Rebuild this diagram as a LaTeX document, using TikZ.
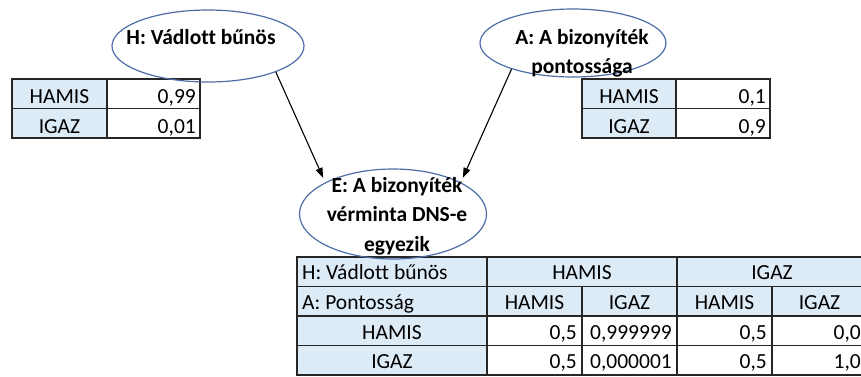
\documentclass[tikz,border=0pt]{standalone}
\usepackage{fontspec}
\setmainfont{Carlito}[Ligatures=CommonOff]
\usetikzlibrary{shapes.geometric,arrows.meta}
\definecolor{lblue}{RGB}{221,235,247}
\definecolor{eline}{RGB}{79,110,168}
\begin{document}
\begin{tikzpicture}[x=1pt,y=-1pt,
  bn/.style={ellipse,draw=eline,line width=1.2pt,inner sep=0pt},
  etext/.style={font=\fontsize{21.5}{29.5}\selectfont\bfseries,align=center,anchor=base,inner sep=0pt},
  ttext/.style={font=\fontsize{21.5}{25}\selectfont,inner sep=0pt,anchor=base},
  tgrid/.style={line width=1.3pt,draw=black!85},
  arr/.style={-{Triangle[length=10pt,width=7pt]},line width=1.1pt,shorten >=5pt}]
\path[use as bounding box] (0,0) rectangle (861,376);
\clip (0,0) rectangle (861,376);
\fill[white] (0,0) rectangle (861,376);

% H prior table
\fill[lblue] (12,79) rectangle (107,138);
\draw[tgrid] (12,79) rectangle (200,138) (107,79) -- (107,138) (12,108.5) -- (200,108.5);
\node[ttext] (hh) at (59.5,103.5) {HAMIS};
\node[ttext,anchor=base east] (hhv) at (196,103.5) {0,99};
\node[ttext] (hi) at (59.5,133) {IGAZ};
\node[ttext,anchor=base east] (hiv) at (196,133) {0,01};

% A prior table
\fill[lblue] (582,79) rectangle (676,138);
\draw[tgrid] (582,79) rectangle (770,138) (676,79) -- (676,138) (582,108.5) -- (770,108.5);
\node[ttext] (ah) at (629,103.5) {HAMIS};
\node[ttext,anchor=base east] (ahv) at (766,103.5) {0,1};
\node[ttext] (ai) at (629,133) {IGAZ};
\node[ttext,anchor=base east] (aiv) at (766,133) {0,9};

% CPT of E
\fill[lblue] (297,257) rectangle (867,316);
\fill[lblue] (297,316) rectangle (487,375);
\draw[tgrid] (297,257) rectangle (867,375)
  (297,286.5) -- (867,286.5) (297,316) -- (867,316) (297,345.5) -- (867,345.5)
  (487,257) -- (487,375) (677,257) -- (677,375)
  (582,286.5) -- (582,375) (772,286.5) -- (772,375);
\node[ttext,anchor=base west] (r1) at (302,279.5) {H: Vádlott bűnös};
\node[ttext] (r1a) at (582,279.5) {HAMIS};
\node[ttext] (r1b) at (772,279.5) {IGAZ};
\node[ttext,anchor=base west] (r2) at (302,309) {A: Pontosság};
\node[ttext] (r2a) at (534.5,309) {HAMIS};
\node[ttext] (r2b) at (629.5,309) {IGAZ};
\node[ttext] (r2c) at (724.5,309) {HAMIS};
\node[ttext] (r2d) at (819.5,309) {IGAZ};
\node[ttext] (r3) at (392,339) {HAMIS};
\node[ttext,anchor=base east] (r3a) at (577,339) {0,5};
\node[ttext,anchor=base east] (r3b) at (672,339) {0,999999};
\node[ttext,anchor=base east] (r3c) at (767,339) {0,5};
\node[ttext,anchor=base east] (r3d) at (861,339) {0,0};
\node[ttext] (r4) at (392,368.5) {IGAZ};
\node[ttext,anchor=base east] (r4a) at (577,368.5) {0,5};
\node[ttext,anchor=base east] (r4b) at (672,368.5) {0,000001};
\node[ttext,anchor=base east] (r4c) at (767,368.5) {0,5};
\node[ttext,anchor=base east] (r4d) at (861,368.5) {1,0};

% Bayesian network nodes
\node[bn,minimum width=192pt,minimum height=72pt] (H) at (208,46) {};
\node[bn,minimum width=186pt,minimum height=68pt] (A) at (573,43) {};
\node[bn,minimum width=187pt,minimum height=90pt] (E) at (393,214) {};
\node[etext] (Ht) at (201,44) {H: Vádlott bűnös};
\node[etext] (At) at (582,73.5) {A: A bizonyíték\\pontossága};
\node[etext] (Et) at (397,251) {E: A bizonyíték\\vérminta DNS-e\\egyezik};

% connectors
\draw[arr] (H.-21) -- (E.155);
\draw[arr] (A.-157) -- (E.25);
\end{tikzpicture}
\end{document}
